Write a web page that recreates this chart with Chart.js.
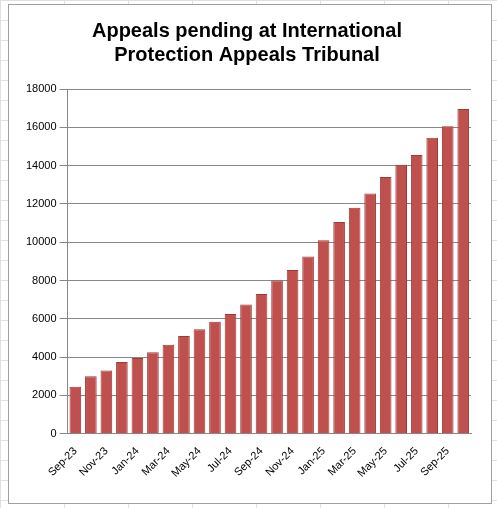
<!DOCTYPE html>
<html><head><script src="https://cdn.jsdelivr.net/npm/chart.js@4"></script>
<style>
html,body{margin:0;padding:0;background:#fff;}
body{width:497px;height:508px;background-image:linear-gradient(#e0e0e0 1px,transparent 1px),linear-gradient(90deg,#e0e0e0 1px,transparent 1px);background-size:64px 20px;}
#box{position:absolute;left:8px;top:4px;width:482px;height:498px;border:1px solid #a0a0a0;background:#fff;}
</style></head><body>
<div id="box"><canvas id="c" width="482" height="498"></canvas></div>
<script>
const categories=["Sep-23","Oct-23","Nov-23","Dec-23","Jan-24","Feb-24","Mar-24","Apr-24","May-24","Jun-24","Jul-24","Aug-24","Sep-24","Oct-24","Nov-24","Dec-24","Jan-25","Feb-25","Mar-25","Apr-25","May-25","Jun-25","Jul-25","Aug-25","Sep-25","Oct-25"];
const pending=[2450,3000,3300,3750,3950,4250,4650,5100,5450,5850,6250,6750,7300,8000,8550,9250,10100,11050,11800,12550,13400,14050,14550,15450,16050,16950];
new Chart(document.getElementById('c'),{type:'bar',
data:{labels:categories,datasets:[{data:pending,backgroundColor:'#C0504D',borderColor:'#9c3a38',borderWidth:1,categoryPercentage:0.75,barPercentage:1}]},
options:{responsive:false,animation:false,
layout:{padding:{left:14,right:20,top:0,bottom:20}},
plugins:{legend:{display:false},title:{display:true,text:['Appeals pending at International','Protection Appeals Tribunal'],color:'#000',font:{family:'Liberation Sans',size:20,weight:'bold'},padding:{top:14,bottom:22}}},
scales:{y:{min:0,max:18000,ticks:{stepSize:2000,color:'#000',font:{family:'Liberation Sans',size:11},callback:v=>String(v)},grid:{color:'#888',drawTicks:true},border:{color:'#888'}},
x:{grid:{display:false},border:{color:'#888'},ticks:{color:'#000',autoSkip:false,maxRotation:45,minRotation:45,font:{family:'Liberation Sans',size:11},callback:function(v,i){return i%2===0?categories[i]:'';}}}}}});
</script></body></html>
